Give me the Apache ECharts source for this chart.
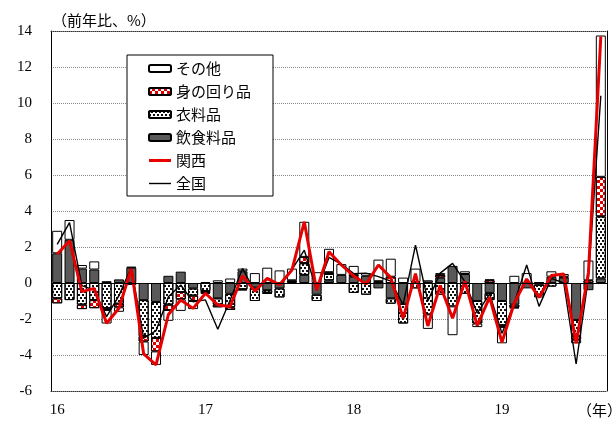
<!DOCTYPE html>
<html>
<head>
<meta charset="utf-8">
<script src="https://cdn.jsdelivr.net/npm/echarts@6/dist/echarts.min.js"></script>
<style>
  html, body { margin: 0; padding: 0; background: #fff; }
  #chart { width: 616px; height: 422px; }
</style>
</head>
<body>
<div id="chart"></div>
<script>
// Months, Jan 2016 to Sep 2019
const months = [
  '16-01','16-02','16-03','16-04','16-05','16-06','16-07','16-08','16-09','16-10','16-11','16-12',
  '17-01','17-02','17-03','17-04','17-05','17-06','17-07','17-08','17-09','17-10','17-11','17-12',
  '18-01','18-02','18-03','18-04','18-05','18-06','18-07','18-08','18-09','18-10','18-11','18-12',
  '19-01','19-02','19-03','19-04','19-05','19-06','19-07','19-08','19-09'
];
const yearTicks = ['16', '17', '18', '19'];

// Contributions by product group (percentage points)
const food = [1.65,2.4,0.8,0.75,0.1,0.2,0.85,-0.95,-1.05,0.4,0.63,-0.3,
  0.05,-0.85,-0.6,0.65,-0.25,-0.4,-0.3,0.05,0.45,-0.65,0.15,0.45,
  0.35,0.4,-0.3,-0.85,-1.15,0.05,0.15,0.3,0.95,0.5,-1.0,-0.55,
  -1.0,-1.2,-0.3,-0.1,0.35,0.3,-2.05,-0.4,0.25];
const clothing = [-0.85,-0.95,-1.2,-0.95,-1.4,-1.15,-0.1,-2.0,-2.0,-1.2,-0.5,-0.4,
  -0.45,-0.35,-0.75,-0.35,-0.75,-0.15,-0.5,0,0.65,-0.35,0.35,0,
  -0.55,-0.65,0,-0.3,-1.1,-0.3,-1.75,-0.65,-1.3,-0.6,-1.25,-0.4,
  -1.35,-0.15,0,-0.55,-0.2,0,-0.9,0,3.45];
const personal = [-0.28,0,-0.25,-0.45,-0.1,-0.2,0,-0.3,-0.75,-0.3,-0.4,-0.3,
  -0.1,-0.15,-0.15,-0.05,0,-0.05,0,0.1,0.35,0,0.1,0,
  0.1,0,0.1,0.35,0,0,0,0.15,0,0,0,0.15,
  -0.1,-0.05,0,0.05,0,0.05,-0.2,0.15,2.2];
const other = [1.25,1.1,0.2,0.45,-0.75,-0.25,0.05,-0.75,-0.75,-0.6,-0.65,-0.45,
  -0.05,0.15,0.25,0.15,0.55,0.85,0.7,0.65,1.95,0.6,1.3,0.6,
  0.5,0.15,1.2,1.0,0.3,0.75,-0.8,0.1,-1.6,0.15,-0.2,0.05,
  -0.9,0.4,0.55,-0.15,0.3,0.15,-0.2,1.1,7.85];

// Year-on-year change, Kansai and nationwide (%)
const kansai = [1.6,2.35,-0.48,-0.3,-2.24,-1.4,0.8,-3.94,-4.55,-1.75,-0.94,-1.41,
  -0.57,-1.22,-1.3,0.4,-0.45,0.26,-0.1,0.72,3.4,-0.4,1.74,1.0,
  0.39,-0.06,1.0,0.3,-1.96,0.52,-2.39,-0.14,-1.96,0.1,-2.36,-0.78,
  -3.3,-1.1,0.22,-0.8,0.42,0.5,-3.35,0.6,13.7];
const national = [2.15,3.35,-0.15,-0.4,-1.87,-0.7,0.87,-3.07,-2.65,-0.76,-0.11,-1.04,
  -0.94,-2.57,-0.94,0.81,-0.48,0.2,-0.11,0.74,1.82,-0.39,1.42,1.05,
  0.52,0.55,0.35,0.1,-1.2,2.1,-1.0,0.55,1.09,0.07,-1.68,-0.6,
  -2.8,-1.1,1.0,-1.3,0.26,0.0,-4.5,0.3,10.4];

const SERIF = '"Liberation Serif", "Noto Sans CJK JP", serif';
const JP = '"Noto Sans CJK JP", "Liberation Serif", sans-serif';
const RED = '#e60000';

const chart = echarts.init(document.getElementById('chart'), null, { renderer: 'canvas' });

const skipZero = arr => arr.map(v => (v === 0 ? null : v));

function barSeries(name, data, itemStyle, extra) {
  return Object.assign({
    name: name,
    type: 'bar',
    stack: 'total',
    barWidth: 10,
    data: skipZero(data),
    itemStyle: Object.assign({ borderColor: '#000', borderWidth: 1 }, itemStyle),
    emphasis: { disabled: true }
  }, extra || {});
}

const option = {
  animation: false,
  grid: { left: 51, top: 31, width: 556, height: 360, containLabel: false },
  xAxis: [
    {
      type: 'category',
      data: months,
      position: 'bottom',
      axisLine: { onZero: false, lineStyle: { color: '#333', type: [1, 1], width: 1 } },
      axisTick: { show: false },
      axisLabel: {
        interval: 0,
        margin: 12,
        color: '#000',
        fontFamily: SERIF,
        fontSize: 15,
        formatter: (v) => v.endsWith('-01') ? yearTicks[yearTicks.indexOf(v.slice(0, 2))] : ''
      },
      splitLine: { show: false }
    },
    {
      type: 'category',
      data: months,
      position: 'top',
      axisLine: { onZero: false, lineStyle: { color: '#333', type: [1, 1], width: 1 } },
      axisTick: { show: false },
      axisLabel: { show: false }
    }
  ],
  yAxis: [
    {
      type: 'value',
      min: -6,
      max: 14,
      interval: 2,
      position: 'left',
      axisLine: { show: true, lineStyle: { color: '#000', width: 1 } },
      axisTick: { show: false },
      axisLabel: { color: '#000', fontFamily: SERIF, fontSize: 15, margin: 19 },
      splitLine: { show: true, lineStyle: { color: '#8a8a8a', type: [1, 1], width: 1 } }
    },
    {
      type: 'value',
      min: -6,
      max: 14,
      interval: 2,
      position: 'right',
      axisLine: { show: true, lineStyle: { color: '#000', width: 1 } },
      axisTick: { show: false },
      axisLabel: { show: false },
      splitLine: { show: false }
    }
  ],
  legend: {
    orient: 'vertical',
    left: 127,
    top: 55,
    data: [
      { name: 'その他' },
      { name: '身の回り品' },
      { name: '衣料品' },
      { name: '飲食料品' },
      { name: '関西', icon: 'path://M0 0H22V3H0Z', itemStyle: { color: RED, borderWidth: 0 } },
      { name: '全国', icon: 'path://M0 0H22V1.4H0Z', itemStyle: { color: '#000', borderWidth: 0 } }
    ],
    backgroundColor: '#fff',
    borderColor: '#000',
    borderWidth: 1,
    padding: [6, 22, 5, 21],
    itemWidth: 22,
    itemHeight: 7,
    itemGap: 8,
    itemTextGap: 3,
    selectedMode: false,
    textStyle: { fontFamily: JP, fontSize: 15, color: '#000', lineHeight: 15 }
  },
  graphic: [
    {
      type: 'text',
      left: 52,
      top: 13,
      style: { text: '（前年比、%）', font: '15px ' + JP, fill: '#000' }
    },
    {
      type: 'text',
      left: 577,
      top: 403,
      style: { text: '（年）', font: '15px ' + JP, fill: '#000' }
    }
  ],
  series: [
    barSeries('飲食料品', food, { color: '#595959' }),
    barSeries('衣料品', clothing, {
      color: '#fff',
      decal: {
        symbol: 'rect',
        symbolSize: 1,
        color: '#111',
        dashArrayX: [[2, 1.5], [0, 1.75, 2, 0]],
        dashArrayY: [2, 0.8]
      }
    }),
    barSeries('身の回り品', personal, {
      color: '#fff',
      decal: {
        symbol: 'rect',
        symbolSize: 1,
        color: '#e00000',
        dashArrayX: [[3, 3], [0, 3, 3, 0]],
        dashArrayY: [3, 0]
      }
    }),
    barSeries('その他', other, { color: '#fff' }, {
      markLine: {
        silent: true,
        symbol: 'none',
        label: { show: false },
        lineStyle: { color: '#000', type: 'solid', width: 1 },
        data: [{ yAxis: 0 }]
      }
    }),
    {
      name: '全国',
      type: 'line',
      data: national,
      symbol: 'none',
      lineStyle: { color: '#000', width: 1.4 },
      itemStyle: { color: '#000' },
      emphasis: { disabled: true }
    },
    {
      name: '関西',
      type: 'line',
      data: kansai,
      symbol: 'none',
      lineStyle: { color: RED, width: 3 },
      itemStyle: { color: RED },
      emphasis: { disabled: true }
    }
  ]
};

chart.setOption(option);
</script>
</body>
</html>
